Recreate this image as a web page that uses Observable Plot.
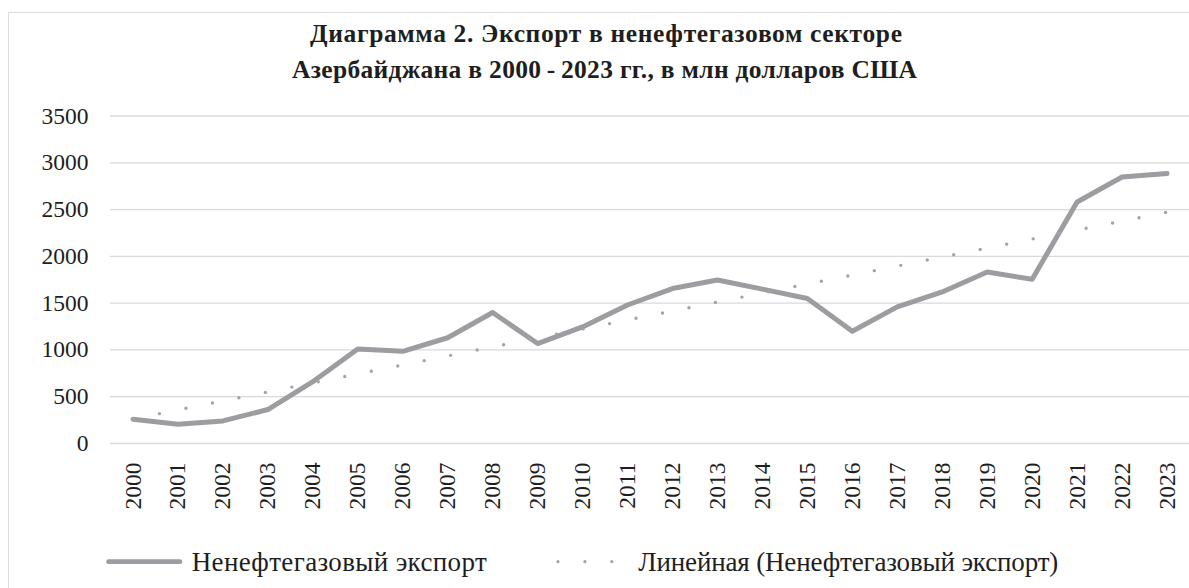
<!DOCTYPE html>
<html>
<head>
<meta charset="utf-8">
<script src="https://cdn.jsdelivr.net/npm/d3@7"></script>
<script src="https://cdn.jsdelivr.net/npm/@observablehq/plot@0.6"></script>
<style>
  html, body { margin: 0; padding: 0; background: #fff; }
  body { width: 1189px; height: 588px; position: relative; overflow: hidden; font-family: "Liberation Serif", "Times New Roman", serif; }
  #frame { position: absolute; left: 8px; top: 12px; width: 1210px; height: 600px; border: 1px solid #dcdcdc; box-sizing: border-box; }
  #chart { position: absolute; left: 0; top: 100px; }
  #overlay { position: absolute; left: 0; top: 0; }
</style>
</head>
<body>
<div id="frame"></div>
<svg id="overlay" width="1189" height="588"></svg>
<div id="chart"></div>
<script>
// ---- data ----
const titleLines = [
  "Диаграмма 2. Экспорт в ненефтегазовом секторе",
  "Азербайджана в 2000\u2009-\u20092023 гг., в млн долларов США"
];
const years = [2000, 2001, 2002, 2003, 2004, 2005, 2006, 2007, 2008, 2009, 2010, 2011,
               2012, 2013, 2014, 2015, 2016, 2017, 2018, 2019, 2020, 2021, 2022, 2023];
const exportValues = [260, 205, 241, 363, 660, 1010, 985, 1130, 1400, 1068, 1246, 1480,
                      1656, 1748, 1650, 1549, 1200, 1460, 1620, 1833, 1755, 2581, 2848, 2885];
const yTicks = [0, 500, 1000, 1500, 2000, 2500, 3000, 3500];
const seriesName = "Ненефтегазовый экспорт";
const trendName = "Линейная (Ненефтегазовый экспорт)";

const data = years.map((year, i) => ({year, value: exportValues[i]}));

const lineColor = "#9d9da1";
const trendColor = "#a3a3a6";
const textColor = "#1e1e1e";
const font = "Liberation Serif";

const chart = Plot.plot({
  width: 1189,
  height: 423,
  marginTop: 15.5,
  marginBottom: 80,
  marginLeft: 110,
  marginRight: 0,
  style: {fontFamily: font, color: textColor, background: "transparent", overflow: "visible"},
  x: {type: "linear", domain: [1999.5, 2023.5]},
  y: {domain: [0, 3500]},
  marks: [
    Plot.gridY(yTicks, {stroke: "#d9d9d9", strokeOpacity: 1, strokeWidth: 1.3}),
    Plot.axisY(yTicks, {tickSize: 0, tickPadding: 22, fontSize: 23.5, tickFormat: d => String(d), label: null, fill: textColor}),
    Plot.axisX(years, {tickSize: 0, tickPadding: 19, tickRotate: -90, fontSize: 23.5, tickFormat: d => String(d), label: null, fill: textColor}),
    Plot.line(data, {x: "year", y: "value", stroke: lineColor, strokeWidth: 5, strokeLinejoin: "round", strokeLinecap: "round"}),
    Plot.linearRegressionY(data, {x: "year", y: "value", stroke: trendColor, strokeWidth: 3.4, strokeDasharray: "0 27", strokeLinecap: "round", ci: 0})
  ]
});
document.getElementById("chart").appendChild(chart);

// ---- title and legend ----
const ov = d3.select("#overlay");
const titlePos = [{x: 310, y: 42.3, w: 592}, {x: 292, y: 77.5, w: 625}];
ov.selectAll("text.title").data(titleLines).join("text")
  .attr("class", "title")
  .attr("x", (d, i) => titlePos[i].x)
  .attr("y", (d, i) => titlePos[i].y)
  .attr("textLength", (d, i) => titlePos[i].w)
  .attr("lengthAdjust", "spacing")
  .attr("font-family", font)
  .attr("font-weight", "bold")
  .attr("font-size", 25.5)
  .attr("fill", textColor)
  .text(d => d);

const ly = 561.7;
ov.append("line").attr("x1", 108.5).attr("x2", 180).attr("y1", ly).attr("y2", ly)
  .attr("stroke", lineColor).attr("stroke-width", 4.7).attr("stroke-linecap", "round");
ov.append("text").attr("x", 191.7).attr("y", 570.5)
  .attr("textLength", 295).attr("lengthAdjust", "spacing")
  .attr("font-family", font).attr("font-size", 27).attr("fill", textColor).text(seriesName);
ov.append("line").attr("x1", 558).attr("x2", 612).attr("y1", ly).attr("y2", ly)
  .attr("stroke", trendColor).attr("stroke-width", 3.2).attr("stroke-dasharray", "0 26.9").attr("stroke-linecap", "round");
ov.append("text").attr("x", 638.3).attr("y", 570.5)
  .attr("textLength", 420).attr("lengthAdjust", "spacing")
  .attr("font-family", font).attr("font-size", 27).attr("fill", textColor).text(trendName);
</script>
</body>
</html>
